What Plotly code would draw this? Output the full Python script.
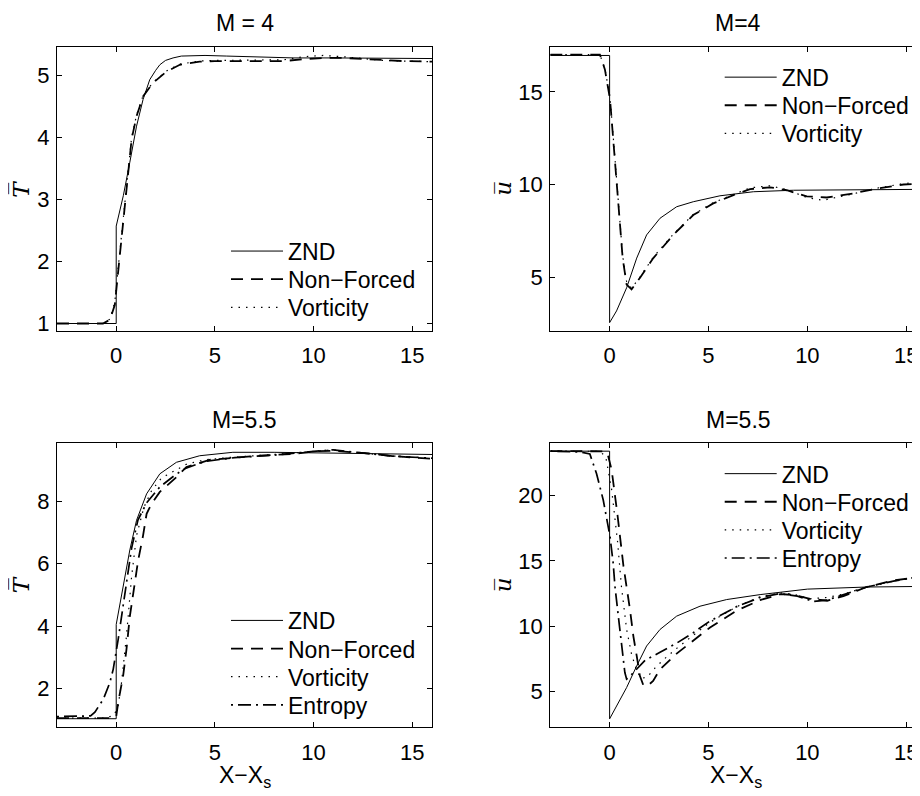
import plotly.graph_objects as go

# ---------------- data ----------------
# Panel A: T, M = 4
a_znd_x = [-3, 0, 0, 0.36, 0.69, 1.03, 1.36, 1.70, 2.0, 2.21, 2.5, 2.88, 3.3, 3.89, 4.5, 5.6, 7.26, 9, 11, 13, 16]
a_znd_y = [1.0, 1.0, 2.57, 3.06, 3.6, 4.18, 4.61, 4.93, 5.08, 5.17, 5.24, 5.28, 5.31, 5.32, 5.32, 5.31, 5.29, 5.28, 5.28, 5.28, 5.27]
a_nf_x = [-3, -1, -0.67, -0.32, -0.07, 0.1, 0.27, 0.44, 0.61, 0.78, 1.03, 1.36, 1.87, 2.55, 3.22, 4.23, 5, 6, 7, 8.5, 9.5, 10.5, 11.5, 12.5, 13.5, 14.5, 16]
a_nf_y = [1.0, 1.0, 1.0, 1.06, 1.3, 1.84, 2.37, 2.9, 3.44, 3.97, 4.34, 4.66, 4.88, 5.06, 5.17, 5.22, 5.23, 5.23, 5.23, 5.23, 5.26, 5.28, 5.28, 5.26, 5.24, 5.23, 5.22]
a_vo_x = [-3, -1, -0.67, -0.32, -0.07, 0.1, 0.27, 0.44, 0.61, 0.78, 1.03, 1.36, 1.87, 2.55, 3.22, 4.23, 5, 6, 7, 8.5, 9.5, 10.5, 11.5, 12.5, 13.5, 14.5, 16]
a_vo_y = [1.0, 1.0, 1.0, 1.07, 1.35, 1.9, 2.45, 2.98, 3.5, 4.0, 4.36, 4.67, 4.89, 5.07, 5.18, 5.23, 5.24, 5.24, 5.24, 5.25, 5.3, 5.32, 5.3, 5.27, 5.24, 5.23, 5.22]

# Panel B: u, M = 4
b_znd_x = [-3, 0, 0, 0.35, 0.86, 1.37, 1.87, 2.55, 3.39, 4.23, 5.58, 7.27, 9.3, 12, 16]
b_znd_y = [16.96, 16.96, 2.55, 3.18, 4.43, 6.03, 7.28, 8.18, 8.8, 9.07, 9.39, 9.61, 9.69, 9.72, 9.74]
b_nf_x = [-3, -0.49, -0.24, 0.02, 0.18, 0.35, 0.49, 0.66, 0.86, 1.11, 1.53, 2.21, 3.22, 4.23, 5.24, 6.26, 7.1, 8.11, 8.96, 9.97, 10.98, 12.33, 13.5, 14.86, 16]
b_nf_y = [17.01, 17.0, 16.21, 14.6, 12.46, 10.32, 8.18, 6.03, 4.6, 4.34, 4.96, 6.03, 7.28, 8.35, 8.98, 9.43, 9.75, 9.85, 9.69, 9.36, 9.3, 9.52, 9.78, 10.0, 10.07]
b_vo_x = [-3, -0.49, -0.24, 0.02, 0.18, 0.35, 0.49, 0.66, 0.86, 1.11, 1.53, 2.21, 3.22, 4.23, 5.24, 6.26, 7.1, 8.11, 8.96, 9.97, 10.8, 12.33, 13.5, 14.86, 16]
b_vo_y = [17.01, 17.0, 16.25, 14.7, 12.6, 10.45, 8.3, 6.15, 4.75, 4.4, 5.0, 6.08, 7.32, 8.38, 9.02, 9.47, 9.82, 9.93, 9.72, 9.3, 9.15, 9.5, 9.8, 10.05, 10.15]

# Panel C: T, M = 5.5
c_znd_x = [-3, 0, 0, 0.35, 0.69, 1.03, 1.54, 2.21, 3.05, 4.23, 5.91, 8, 10, 12, 14, 16]
c_znd_y = [1.03, 1.03, 4.05, 5.27, 6.44, 7.39, 8.24, 8.88, 9.25, 9.46, 9.57, 9.57, 9.55, 9.52, 9.5, 9.5]
c_nf_x = [-3, -0.3, 0, 0.1, 0.35, 0.52, 0.69, 0.91, 1.11, 1.36, 1.54, 1.79, 2.21, 3.05, 3.56, 4.73, 6, 7.26, 9, 10, 11, 12, 13, 14, 15, 16]
c_nf_y = [1.05, 1.05, 1.1, 1.55, 2.4, 3.25, 4.31, 5.27, 6.1, 6.9, 7.6, 7.92, 8.3, 8.77, 9.1, 9.33, 9.4, 9.46, 9.52, 9.6, 9.62, 9.58, 9.52, 9.45, 9.4, 9.36]
c_vo_x = [-3, -0.5, -0.1, 0.1, 0.27, 0.52, 0.78, 1.03, 1.4, 1.8, 2.3, 3.0, 3.6, 4.5, 6, 8, 10, 11, 12, 14, 16]
c_vo_y = [1.05, 1.05, 1.15, 1.45, 2.19, 3.68, 5.59, 6.9, 7.8, 8.35, 8.75, 9.0, 9.2, 9.33, 9.42, 9.5, 9.6, 9.65, 9.58, 9.45, 9.38]
c_en_x = [-3, -2, -1.3, -1.08, -0.65, -0.32, -0.15, 0.1, 0.44, 0.78, 1.1, 1.54, 2.21, 3.0, 3.5, 4.5, 6, 8, 10, 11, 12, 13, 14, 16]
c_en_y = [1.1, 1.1, 1.12, 1.24, 1.66, 2.19, 2.62, 3.57, 5.1, 6.5, 7.4, 7.95, 8.46, 8.85, 9.05, 9.28, 9.4, 9.48, 9.6, 9.65, 9.58, 9.52, 9.45, 9.38]

# Panel D: u, M = 5.5
d_znd_x = [-3, 0, 0, 0.35, 0.86, 1.37, 1.87, 2.55, 3.39, 4.57, 5.92, 7.61, 10, 13, 16]
d_znd_y = [23.41, 23.41, 2.9, 3.91, 5.3, 6.96, 8.48, 9.75, 10.77, 11.53, 12.04, 12.42, 12.84, 13.0, 13.05]
d_nf_x = [-3, -0.3, -0.1, 0.1, 0.4, 0.7, 1.03, 1.2, 1.37, 1.53, 1.7, 1.9, 2.2, 2.55, 3.39, 4.23, 5.08, 6.43, 7.61, 8.62, 9.3, 10.14, 11.0, 11.82, 13.0, 14.35, 16]
d_nf_y = [23.41, 23.4, 23.2, 22.0, 18.5, 14.6, 11.27, 9.24, 7.72, 6.2, 5.5, 5.4, 5.8, 6.7, 7.9, 8.9, 9.9, 11.2, 12.0, 12.45, 12.4, 12.1, 11.95, 12.3, 13.0, 13.5, 13.85]
d_vo_x = [-3, -0.5, -0.2, 0.1, 0.4, 0.6, 0.86, 1.11, 1.37, 1.6, 1.9, 2.3, 2.7, 3.39, 4.23, 5.08, 6.43, 7.61, 8.62, 9.3, 10.14, 11.0, 11.82, 13.0, 14.35, 16]
d_vo_y = [23.41, 23.4, 23.0, 20.5, 16.5, 13.0, 9.75, 7.85, 6.58, 6.0, 6.1, 6.8, 7.4, 8.3, 9.3, 10.3, 11.5, 12.25, 12.55, 12.45, 12.1, 12.2, 12.45, 13.0, 13.45, 13.8]
d_en_x = [-3, -1.5, -1.0, -0.66, -0.32, -0.15, 0.02, 0.18, 0.27, 0.44, 0.61, 0.77, 0.86, 1.0, 1.3, 1.8, 2.55, 3.39, 4.23, 5.08, 6.43, 7.61, 8.62, 9.5, 10.3, 11.0, 11.8, 13.0, 14.35, 16]
d_en_y = [23.41, 23.35, 23.2, 21.68, 19.65, 18.13, 16.86, 14.83, 13.05, 10.77, 8.48, 6.45, 5.94, 6.1, 6.6, 7.4, 8.0, 8.7, 9.5, 10.4, 11.5, 12.2, 12.5, 12.3, 11.9, 12.0, 12.4, 13.0, 13.45, 13.9]

titles = ["M = 4", "M=4", "M=5.5", "M=5.5"]
series_names = ["ZND", "Non\u2212Forced", "Vorticity", "Entropy"]
x_ticks = [0, 5, 10, 15]
y_ticks = [[1, 2, 3, 4, 5], [5, 10, 15], [2, 4, 6, 8], [5, 10, 15, 20]]

# ---------------- figure ----------------
W, H = 920, 796
OFF = 8  # page body margin: convert page pixels to figure pixels
FONT = "Liberation Sans, Arial, sans-serif"
styles = {
    0: dict(width=1.0, dash="solid"),
    1: dict(width=1.8, dash="12px,8px"),
    2: dict(width=1.2, dash="1.5px,6px"),
    3: dict(width=1.7, dash="2px,5px,13px,5px"),
}

panels = [
    [(a_znd_x, a_znd_y), (a_nf_x, a_nf_y), (a_vo_x, a_vo_y)],
    [(b_znd_x, b_znd_y), (b_nf_x, b_nf_y), (b_vo_x, b_vo_y)],
    [(c_znd_x, c_znd_y), (c_nf_x, c_nf_y), (c_vo_x, c_vo_y), (c_en_x, c_en_y)],
    [(d_znd_x, d_znd_y), (d_nf_x, d_nf_y), (d_vo_x, d_vo_y), (d_en_x, d_en_y)],
]

# page-pixel geometry of the axes boxes
boxes = [
    (57, 432, 47, 333, [-3, 16], [0.88, 5.46]),
    (550.3, 926, 47, 333, [-3, 16], [2.1, 17.43]),
    (57, 432, 445.7, 732, [-3, 16], [0.75, 9.87]),
    (550.3, 926, 445.7, 732, [-3, 16], [2.24, 24.04]),
]

def px(xp):
    return (xp - OFF) / W

def py(yp):
    return 1 - (yp - OFF) / H

# legend: text start x, first row centre y, row step (page px)
leg_pos = [(289, 250), (782.7, 75), (289, 621.7), (782.7, 474)]
ROW = 28.3
ITEMW = 52

fig = go.Figure()
layout = dict(
    width=W, height=H, margin=dict(l=0, r=0, t=0, b=0),
    paper_bgcolor="white", plot_bgcolor="white",
    font=dict(family=FONT, size=22, color="black"),
)
k = 0
for p, series in enumerate(panels):
    xa = "x" if p == 0 else f"x{p+1}"
    ya = "y" if p == 0 else f"y{p+1}"
    tx, ty = leg_pos[p]
    for s, (xs, ys) in enumerate(series):
        k += 1
        lname = "legend" if k == 1 else f"legend{k}"
        fig.add_trace(go.Scatter(
            x=xs, y=ys, mode="lines", name=series_names[s],
            line=dict(color="black", **styles[s]),
            xaxis=xa, yaxis=ya, legend=lname, showlegend=True,
        ))
        layout[lname] = dict(
            x=px(tx - ITEMW - 11), y=py(ty + s * ROW - 19), xanchor="left", yanchor="top",
            bgcolor="rgba(0,0,0,0)", borderwidth=0, font=dict(size=23, family=FONT),
            itemwidth=ITEMW,
        )

for p, (x0, x1, y0, y1, xr, yr) in enumerate(boxes):
    xk = "xaxis" if p == 0 else f"xaxis{p+1}"
    yk = "yaxis" if p == 0 else f"yaxis{p+1}"
    layout[xk] = dict(
        domain=[px(x0), px(x1)], range=xr, anchor="y" if p == 0 else f"y{p+1}",
        tickvals=x_ticks, ticks="inside", ticklen=5, tickwidth=1, tickcolor="black",
        showline=True, linecolor="black", linewidth=1.2, mirror="ticks",
        showgrid=False, zeroline=False, tickfont=dict(size=22), ticklabelstandoff=5,
    )
    layout[yk] = dict(
        domain=[py(y1), py(y0)], range=yr, anchor="x" if p == 0 else f"x{p+1}",
        tickvals=y_ticks[p], ticks="inside", ticklen=5, tickwidth=1, tickcolor="black",
        showline=True, linecolor="black", linewidth=1.2, mirror="ticks",
        showgrid=False, zeroline=False, tickfont=dict(size=22), ticklabelstandoff=2,
    )

annotations = []
title_pos = [(244.5, 23), (738, 23), (244.5, 423), (738, 423)]
for p, (tx, ty) in enumerate(title_pos):
    annotations.append(dict(text=titles[p], x=px(tx), y=py(ty), xref="paper", yref="paper",
                            xanchor="center", yanchor="middle", showarrow=False,
                            font=dict(size=23, family=FONT)))
ylab = ["<i>T\u0305</i>", "<i>u\u0305</i>", "<i>T\u0305</i>", "<i>u\u0305</i>"]
ylab_pos = [(21, 191), (503, 189), (21, 589), (503, 588)]
for p, (tx, ty) in enumerate(ylab_pos):
    annotations.append(dict(text=ylab[p], x=px(tx), y=py(ty), xref="paper", yref="paper",
                            xanchor="center", yanchor="middle", showarrow=False, textangle=-90,
                            font=dict(size=23, family="DejaVu Serif, serif")))
for cx in (245, 736):
    annotations.append(dict(text="X\u2212X<sub>s</sub>", x=px(cx), y=py(765), xref="paper", yref="paper",
                            xanchor="center", yanchor="top", showarrow=False,
                            font=dict(size=23, family=FONT)))
layout["annotations"] = annotations
fig.update_layout(**layout)

fig.write_html("out.html")
